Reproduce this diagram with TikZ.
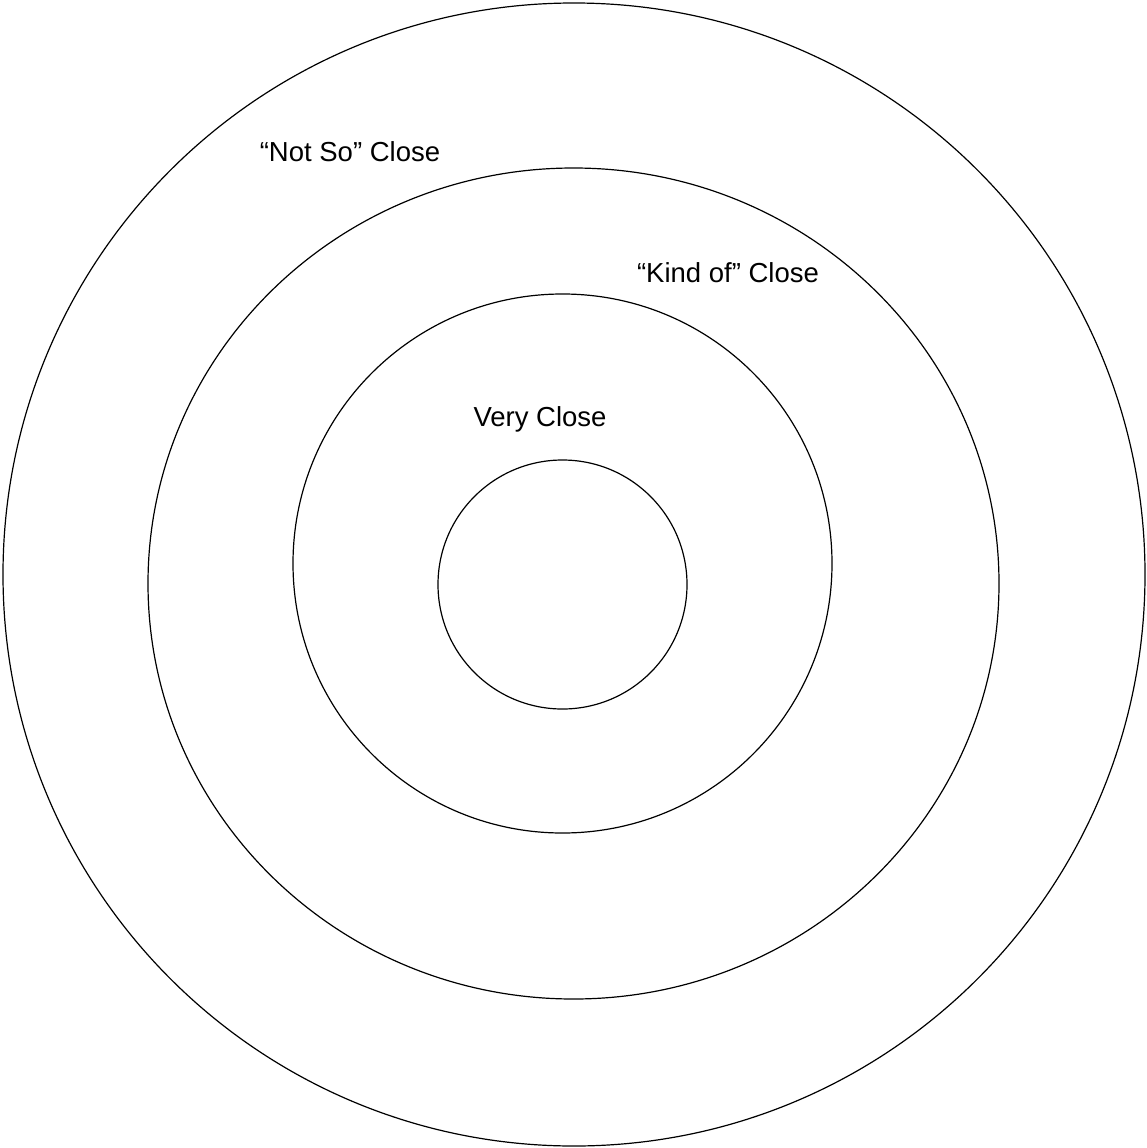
\documentclass[tikz,border=0pt]{standalone}
\usepackage{fontspec}
\setmainfont{Liberation Sans}
\begin{document}
\begin{tikzpicture}[x=1pt,y=-1pt,
  ring/.style={draw=black,line width=1.2pt},
  lbl/.style={anchor=base,inner sep=0pt,font=\fontsize{27.5}{33}\selectfont}]
\useasboundingbox (0,0) rectangle (1146,1148);
\draw[ring] (574,574.5) ellipse [x radius=571,y radius=571.5];
\draw[ring] (573.5,583.5) ellipse [x radius=425.5,y radius=415.5];
\draw[ring] (562.5,563.5) circle [radius=269.5];
\draw[ring] (562.5,584.5) circle [radius=124.5];
\node[lbl] (notso) at (350,161) {“Not So” Close};
\node[lbl] (kindof) at (728,282) {“Kind of” Close};
\node[lbl] (very) at (540,426) {Very Close};
\end{tikzpicture}
\end{document}
